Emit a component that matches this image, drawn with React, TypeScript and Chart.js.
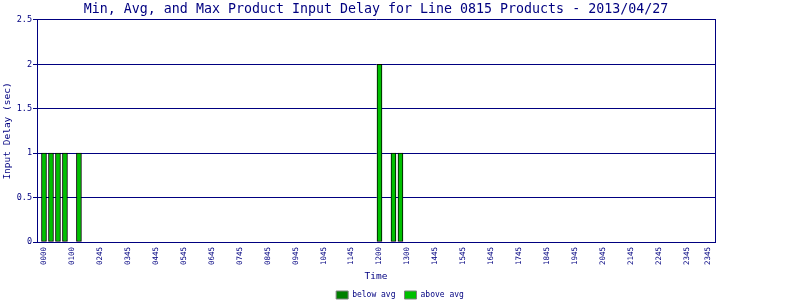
import React, { useEffect, useRef } from "react";
import { Chart, registerables } from "chart.js";

Chart.register(...registerables);

const chartTitle = "Min, Avg, and Max Product Input Delay for Line 0815 Products - 2013/04/27";

const timeLabels: string[] = [
  "0000", "0015", "0030", "0045",
  "0100", "0130", "0200", "0230", "0245",
  "0300", "0315", "0330", "0345",
  "0400", "0415", "0430", "0445",
  "0500", "0515", "0530", "0545",
  "0600", "0615", "0630", "0645",
  "0700", "0715", "0730", "0745",
  "0800", "0815", "0830", "0845",
  "0900", "0915", "0930", "0945",
  "1000", "1015", "1030", "1045",
  "1100", "1115", "1130", "1145",
  "1148", "1152", "1156", "1200",
  "1215", "1230", "1245", "1300",
  "1330", "1400", "1430", "1445",
  "1500", "1515", "1530", "1545",
  "1600", "1615", "1630", "1645",
  "1700", "1715", "1730", "1745",
  "1800", "1815", "1830", "1845",
  "1900", "1915", "1930", "1945",
  "2000", "2015", "2030", "2045",
  "2100", "2115", "2130", "2145",
  "2200", "2215", "2230", "2245",
  "2300", "2315", "2330", "2345",
  "2345", "2345", "2345",
];

// indexes of categories whose time label is printed on the x axis
const shownTickIndexes: number[] = [
  0, 4, 8, 12, 16, 20, 24, 28, 32, 36, 40, 44, 48, 52, 56, 60, 64, 68, 72, 76, 80, 84, 88, 92, 95,
];

const aboveAvgValues: number[] = [
  1, 1, 1, 1, 0, 1, 0, 0, 0, 0, 0, 0, 0, 0, 0, 0,
  0, 0, 0, 0, 0, 0, 0, 0, 0, 0, 0, 0, 0, 0, 0, 0,
  0, 0, 0, 0, 0, 0, 0, 0, 0, 0, 0, 0, 0, 0, 0, 0,
  2, 0, 1, 1, 0, 0, 0, 0, 0, 0, 0, 0, 0, 0, 0, 0,
  0, 0, 0, 0, 0, 0, 0, 0, 0, 0, 0, 0, 0, 0, 0, 0,
  0, 0, 0, 0, 0, 0, 0, 0, 0, 0, 0, 0, 0, 0, 0, 0,
];

const belowAvgValues: number[] = [
  0, 0, 0, 0, 0, 0, 0, 0, 0, 0, 0, 0, 0, 0, 0, 0,
  0, 0, 0, 0, 0, 0, 0, 0, 0, 0, 0, 0, 0, 0, 0, 0,
  0, 0, 0, 0, 0, 0, 0, 0, 0, 0, 0, 0, 0, 0, 0, 0,
  0, 0, 0, 0, 0, 0, 0, 0, 0, 0, 0, 0, 0, 0, 0, 0,
  0, 0, 0, 0, 0, 0, 0, 0, 0, 0, 0, 0, 0, 0, 0, 0,
  0, 0, 0, 0, 0, 0, 0, 0, 0, 0, 0, 0, 0, 0, 0, 0,
];

const NAVY = "#000080";
const FONT = "'DejaVu Sans Mono', 'Liberation Mono', monospace";

function toPoints(values: number[]) {
  return values.map((v, i) => ({ x: i, y: v > 0 ? v : null }));
}

export default function App() {
  const canvasRef = useRef<HTMLCanvasElement | null>(null);

  useEffect(() => {
    document.body.style.margin = "0";
    const canvas = canvasRef.current;
    if (!canvas) return;

    const chart = new Chart(canvas, {
      type: "bar",
      data: {
        datasets: [
          {
            label: "below avg",
            data: toPoints(belowAvgValues) as any,
            backgroundColor: "#008000",
            borderColor: "#000000",
            borderWidth: 1,
            borderSkipped: false,
            barThickness: 5,
          },
          {
            label: "above avg",
            data: toPoints(aboveAvgValues) as any,
            backgroundColor: "#00C000",
            borderColor: "#000000",
            borderWidth: 1,
            borderSkipped: false,
            barThickness: 5,
          },
        ],
      },
      options: {
        animation: false,
        responsive: true,
        maintainAspectRatio: false,
        layout: { padding: { left: 0, right: 0, top: 0, bottom: -9 } },
        plugins: {
          title: {
            display: true,
            text: chartTitle,
            color: NAVY,
            fullSize: false,
            font: { family: FONT, size: 13.3, weight: "normal", lineHeight: 1.2 },
            padding: { top: 2, bottom: 2 },
          },
          legend: {
            position: "bottom",
            labels: {
              boxWidth: 12,
              boxHeight: 8,
              padding: 9,
              color: NAVY,
              font: { family: FONT, size: 8 },
              generateLabels(c: any) {
                const items = (Chart.defaults.plugins.legend.labels as any).generateLabels(c);
                items.forEach((it: any) => {
                  it.strokeStyle = "#808080";
                  it.lineWidth = 1;
                });
                return items;
              },
            },
          },
          tooltip: { enabled: false },
        },
        scales: {
          x: {
            type: "linear",
            min: -1,
            max: 96,
            offset: false,
            stacked: true,
            grid: { display: false, drawTicks: false, tickLength: 0, offset: false },
            border: { display: true, color: NAVY, width: 1 },
            ticks: {
              autoSkip: false,
              minRotation: 90,
              maxRotation: 90,
              padding: 5,
              color: NAVY,
              font: { family: FONT, size: 7.5 },
              callback: (v: any) => timeLabels[Number(v)] ?? "",
            },
            afterBuildTicks: (s: any) => {
              s.ticks = shownTickIndexes.map((v) => ({ value: v }));
            },
            afterFit: (s: any) => {
              s.height = 40;
            },
            title: {
              display: true,
              text: "Time",
              color: NAVY,
              font: { family: FONT, size: 9.5, lineHeight: 1.2 },
              padding: { top: 0, bottom: 0 },
            },
          },
          y: {
            min: 0,
            max: 2.5,
            stacked: true,
            ticks: {
              stepSize: 0.5,
              padding: 1,
              color: NAVY,
              font: { family: FONT, size: 8.5 },
              callback: (v: any) => String(Number(v)),
            },
            grid: { color: NAVY, lineWidth: 1, tickLength: 4 },
            border: { display: true, color: NAVY, width: 1 },
            afterFit: (s: any) => {
              s.width = 37;
            },
            title: {
              display: true,
              text: "Input Delay (sec)",
              color: NAVY,
              font: { family: FONT, size: 9.5, lineHeight: 1.2 },
              padding: { top: 2, bottom: 0 },
            },
          },
          y2: {
            position: "right",
            display: true,
            grid: { display: false },
            ticks: { display: false },
            border: { display: true, color: NAVY, width: 1 },
            afterFit: (s: any) => {
              s.width = 85;
            },
          },
        },
      } as any,
    });

    return () => {
      chart.destroy();
    };
  }, []);

  return (
    <div style={{ width: 800, height: 300, position: "relative", background: "#ffffff" }}>
      <canvas ref={canvasRef} />
    </div>
  );
}
